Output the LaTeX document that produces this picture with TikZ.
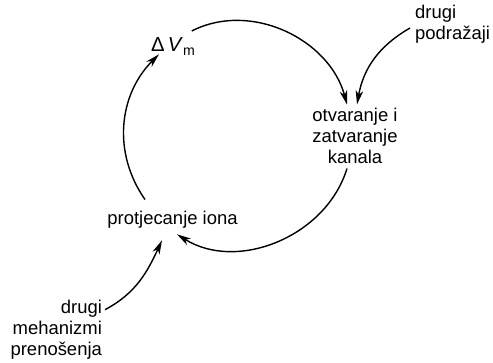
\documentclass[tikz,border=0pt]{standalone}
\usepackage{fontspec}
\setmainfont{Liberation Sans}
\usetikzlibrary{arrows.meta,positioning}

\begin{document}
\begin{tikzpicture}[x=0.2mm,y=0.2mm,
  lbl/.style={inner sep=1pt,font=\fontsize{10.5}{12}\selectfont},
  cyc/.style={line width=0.8pt,-{Stealth[length=2.8mm,width=1.5mm,inset=0.8mm]}}]
  \useasboundingbox (0,0) rectangle (493,363);
  % labels round the loop
  \node[lbl,anchor=base west,font=\fontsize{11.5}{12}\selectfont] (dV) at (149,311) {Δ\,\textit{V}\textsubscript{m}};
  \node[lbl,align=center] (otv) at (355,227.5) {otvaranje i\\zatvaranje\\kanala};
  \node[lbl,anchor=base] (prot) at (172.5,138) {protjecanje iona};
  \node[lbl,align=left,anchor=west] (pod) at (413,339) {drugi\\podražaji};
  \node[lbl,align=right,anchor=east] (meh) at (104,33.5) {drugi\\mehanizmi\\prenošenja};
  % the loop
  \draw[cyc] ([shift={(-6,5)}]dV.north east) to[out=27,in=105] ([shift={(-8,1)}]otv.north);
  \draw[cyc] ([shift={(-8,-3)}]otv.south) to[out=253,in=-32] ([shift={(4.5,-3.4)}]prot.south);
  \draw[cyc] ([shift={(-27.5,10)}]prot.north) to[out=125,in=225] ([shift={(10,3)}]dV.south west);
  % outside inputs
  \draw[cyc] ([shift={(-3,-4)}]pod.west) to[out=210,in=80] ([shift={(2,1)}]otv.north);
  \draw[cyc] ([shift={(1,-12)}]meh.north east) to[out=28,in=245] ([shift={(-10.5,-9.4)}]prot.south);
\end{tikzpicture}
\end{document}
